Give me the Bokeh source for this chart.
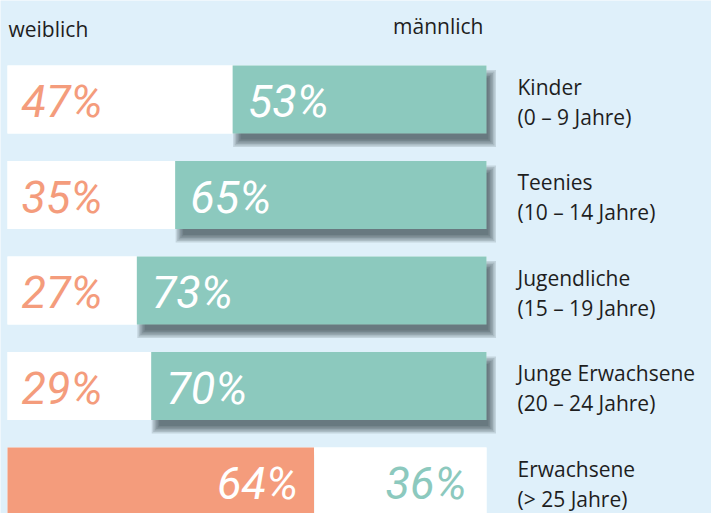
from bokeh.plotting import figure
from bokeh.models import Range1d
from bokeh.core.properties import value
from bokeh.embed import file_html
from bokeh.resources import INLINE

# ---- data ----
groups = ["Kinder", "Teenies", "Jugendliche", "Junge Erwachsene", "Erwachsene"]
ages = ["(0 – 9 Jahre)", "(10 – 14 Jahre)", "(15 – 19 Jahre)", "(20 – 24 Jahre)", "(> 25 Jahre)"]
female = [47, 35, 27, 29, 64]
male = [53, 65, 73, 70, 36]
header_left = "weiblich"
header_right = "männlich"

# ---- layout constants ----
W, H = 711, 513
PX = 4.79      # pixels per percent
ROW = 95.5     # pixels per row
BH = 68 / ROW  # bar height in row units
x_start = -7 / PX
x_end = x_start + W / PX
y_top = -99 / ROW
y_bot = y_top + H / ROW

BG = "#dff0fa"
TEAL = "#8cc9be"
ORANGE = "#f49c7c"
TXT = "#1e1e1e"
PCT_FONT = value("Roboto")
PCT_SIZE = "45px"
LBL_FONT = value("Open Sans")
LBL_SIZE = "21px"

p = figure(width=W, height=H, output_backend="svg", toolbar_location=None,
           x_range=Range1d(x_start, x_end), y_range=Range1d(y_bot, y_top),
           x_axis_type=None, y_axis_type=None, min_border=0,
           background_fill_color=BG, border_fill_color=BG, outline_line_color=None)
p.grid.visible = False

rows = list(range(len(groups)))

# white base for each row
p.hbar(y=rows, left=0, right=100, height=BH, color="white", line_color=None)

# shadow under dominant bar
dom_left, dom_right = [], []
for i in rows:
    if female[i] > male[i]:
        dom_left.append(0); dom_right.append(female[i])
    else:
        dom_left.append(100 - male[i]); dom_right.append(100)

dx, dy = 5, 9
for s in [-3, -1.5, 0, 1.5, 3, 4.5]:
    p.quad(left=[l + (dx - s) / PX for l in dom_left],
           right=[r + (dx + s) / PX for r in dom_right],
           top=[i - BH / 2 + (dy - s) / ROW for i in rows],
           bottom=[i + BH / 2 + (dy + s) / ROW for i in rows],
           color="#1f2a31", alpha=0.14, line_color=None)

# bars
f_col = [ORANGE if female[i] > male[i] else "white" for i in rows]
m_col = [TEAL if male[i] > female[i] else "white" for i in rows]
p.hbar(y=rows, left=0, right=female, height=BH, color=f_col, line_color=None)
p.hbar(y=rows, left=[100 - m for m in male], right=100, height=BH, color=m_col, line_color=None)

# percentage labels
def pct(x, y, t, off, align, col):
    p.text(x=[x], y=[y], text=[t], x_offset=off, y_offset=2, text_align=align,
           text_baseline="middle", text_color=col, text_font=PCT_FONT,
           text_font_style="italic", text_font_size=PCT_SIZE)

for i in rows:
    f, m = female[i], male[i]
    if f < m:
        pct(0, i, f"{f}%", 14, "left", ORANGE)
        pct(100 - m, i, f"{m}%", 15, "left", "white")
    else:
        pct(f, i, f"{f}%", -16, "right", "white")
        pct(100, i, f"{m}%", -20, "right", TEAL)

# category labels
p.text(x=[100] * len(rows), y=rows, text=groups, x_offset=31, y_offset=-13,
       text_align="left", text_baseline="middle", text_color=TXT,
       text_font=LBL_FONT, text_font_size=LBL_SIZE)
p.text(x=[100] * len(rows), y=rows, text=ages, x_offset=31, y_offset=17,
       text_align="left", text_baseline="middle", text_color=TXT,
       text_font=LBL_FONT, text_font_size=LBL_SIZE)

# headers
p.text(x=[0], y=[y_top + 28 / ROW], text=[header_left], x_offset=1, text_align="left",
       text_baseline="middle", text_color=TXT, text_font=LBL_FONT, text_font_size=LBL_SIZE)
p.text(x=[100], y=[y_top + 25 / ROW], text=[header_right], x_offset=-3, text_align="right",
       text_baseline="middle", text_color=TXT, text_font=LBL_FONT, text_font_size=LBL_SIZE)

open("out.html", "w").write(file_html(p, INLINE))
